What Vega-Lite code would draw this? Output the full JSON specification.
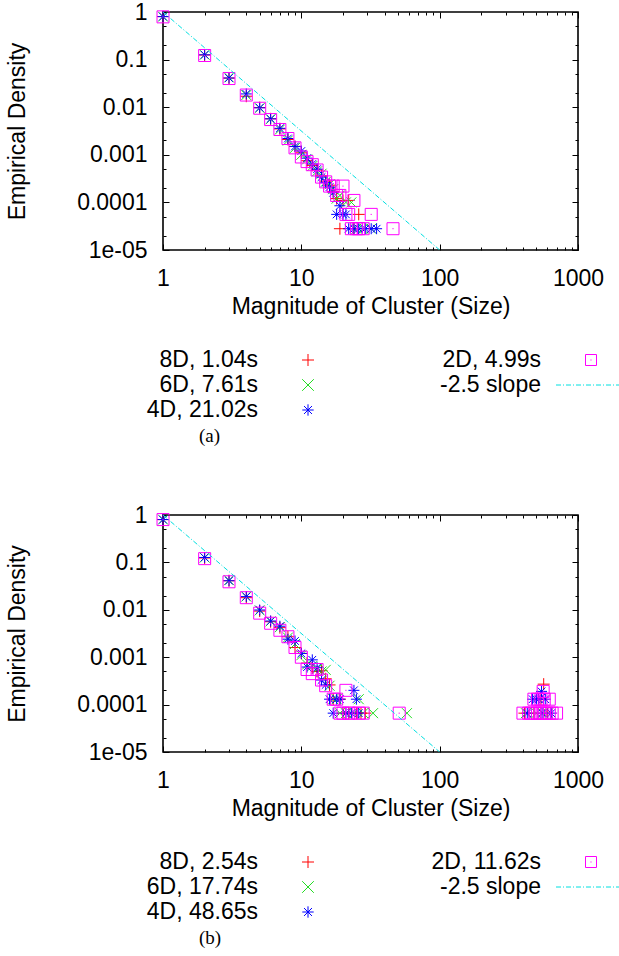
{
  "$schema": "https://vega.github.io/schema/vega-lite/v6.json",
  "background": "white",
  "padding": {"left": 5, "top": 0, "right": 0, "bottom": 0},
  "bounds": "flush",
  "spacing": 90,
  "config": {
    "font": "Liberation Sans",
    "axis": {"labelFont": "Liberation Sans", "labelFontSize": 23, "titleFont": "Liberation Sans", "titleFontSize": 23, "titleFontWeight": "normal", "labelColor": "#000", "titleColor": "#000", "tickColor": "#000", "tickWidth": 1, "grid": false},
    "view": {"stroke": "#000", "strokeWidth": 1.6}
  },
  "datasets": {
    "a": [
      {"s":"8D","x":1,"y":0.8},{"s":"8D","x":2,"y":0.125},{"s":"8D","x":3,"y":0.041},{"s":"8D","x":4,"y":0.017},{"s":"8D","x":5,"y":0.0098},{"s":"8D","x":6,"y":0.0057},{"s":"8D","x":7,"y":0.0035},{"s":"8D","x":8,"y":0.0021},{"s":"8D","x":9,"y":0.0015},{"s":"8D","x":10,"y":0.0011},{"s":"8D","x":11,"y":0.00075},{"s":"8D","x":12,"y":0.0006},{"s":"8D","x":13,"y":0.00048},{"s":"8D","x":14,"y":0.00036},{"s":"8D","x":15,"y":0.00028},{"s":"8D","x":16,"y":0.00023},{"s":"8D","x":17,"y":0.00017},{"s":"8D","x":18,"y":0.00012},{"s":"8D","x":19,"y":0.000028},{"s":"8D","x":20,"y":0.00011},{"s":"8D","x":22,"y":0.00011},{"s":"8D","x":24,"y":0.000028},{"s":"8D","x":26,"y":0.000056},
      {"s":"6D","x":1,"y":0.8},{"s":"6D","x":2,"y":0.126},{"s":"6D","x":3,"y":0.042},{"s":"6D","x":4,"y":0.018},{"s":"6D","x":5,"y":0.0096},{"s":"6D","x":6,"y":0.0056},{"s":"6D","x":7,"y":0.0034},{"s":"6D","x":8,"y":0.002},{"s":"6D","x":9,"y":0.0014},{"s":"6D","x":10,"y":0.001},{"s":"6D","x":11,"y":0.0008},{"s":"6D","x":12,"y":0.00058},{"s":"6D","x":13,"y":0.00045},{"s":"6D","x":14,"y":0.0004},{"s":"6D","x":15,"y":0.00027},{"s":"6D","x":16,"y":0.00024},{"s":"6D","x":17,"y":0.00019},{"s":"6D","x":18,"y":0.00012},{"s":"6D","x":19,"y":0.00014},{"s":"6D","x":21,"y":0.0001},{"s":"6D","x":23,"y":0.0001},{"s":"6D","x":25,"y":0.000028},{"s":"6D","x":28,"y":0.000028},{"s":"6D","x":32,"y":0.000028},
      {"s":"4D","x":1,"y":0.8},{"s":"4D","x":2,"y":0.126},{"s":"4D","x":3,"y":0.041},{"s":"4D","x":4,"y":0.019},{"s":"4D","x":5,"y":0.0097},{"s":"4D","x":6,"y":0.0057},{"s":"4D","x":7,"y":0.0036},{"s":"4D","x":8,"y":0.0022},{"s":"4D","x":9,"y":0.0015},{"s":"4D","x":10,"y":0.0012},{"s":"4D","x":11,"y":0.00085},{"s":"4D","x":12,"y":0.00064},{"s":"4D","x":13,"y":0.0005},{"s":"4D","x":14,"y":0.00034},{"s":"4D","x":15,"y":0.00026},{"s":"4D","x":16,"y":0.00021},{"s":"4D","x":17,"y":0.00016},{"s":"4D","x":18,"y":0.000056},{"s":"4D","x":19,"y":0.000085},{"s":"4D","x":20,"y":0.000056},{"s":"4D","x":21,"y":0.000056},{"s":"4D","x":22,"y":0.000028},{"s":"4D","x":24,"y":0.000028},{"s":"4D","x":26,"y":0.000028},{"s":"4D","x":29,"y":0.000028},{"s":"4D","x":32,"y":0.000028},{"s":"4D","x":35,"y":0.000028},
      {"s":"2D","x":1,"y":0.79},{"s":"2D","x":2,"y":0.122},{"s":"2D","x":3,"y":0.04},{"s":"2D","x":4,"y":0.018},{"s":"2D","x":5,"y":0.0095},{"s":"2D","x":6,"y":0.0055},{"s":"2D","x":7,"y":0.0034},{"s":"2D","x":8,"y":0.0022},{"s":"2D","x":9,"y":0.0014},{"s":"2D","x":10,"y":0.0009},{"s":"2D","x":11,"y":0.00072},{"s":"2D","x":12,"y":0.00062},{"s":"2D","x":13,"y":0.00048},{"s":"2D","x":14,"y":0.00034},{"s":"2D","x":15,"y":0.00027},{"s":"2D","x":16,"y":0.00022},{"s":"2D","x":17,"y":0.00022},{"s":"2D","x":18,"y":0.00014},{"s":"2D","x":19,"y":0.00014},{"s":"2D","x":20,"y":0.00022},{"s":"2D","x":21,"y":0.000056},{"s":"2D","x":22,"y":0.000056},{"s":"2D","x":23,"y":0.000028},{"s":"2D","x":24,"y":0.00011},{"s":"2D","x":25,"y":0.000028},{"s":"2D","x":26,"y":0.000028},{"s":"2D","x":28,"y":0.000028},{"s":"2D","x":32,"y":0.000056},{"s":"2D","x":46,"y":0.000028}
    ],
    "b": [
      {"s":"8D","x":1,"y":0.8},{"s":"8D","x":2,"y":0.124},{"s":"8D","x":3,"y":0.041},{"s":"8D","x":4,"y":0.018},{"s":"8D","x":5,"y":0.0094},{"s":"8D","x":6,"y":0.0056},{"s":"8D","x":7,"y":0.0042},{"s":"8D","x":8,"y":0.0027},{"s":"8D","x":9,"y":0.0016},{"s":"8D","x":10,"y":0.0012},{"s":"8D","x":11,"y":0.00075},{"s":"8D","x":12,"y":0.0006},{"s":"8D","x":13,"y":0.0005},{"s":"8D","x":14,"y":0.00052},{"s":"8D","x":15,"y":0.00035},{"s":"8D","x":16,"y":0.00026},{"s":"8D","x":17,"y":0.00013},{"s":"8D","x":19,"y":0.00013},{"s":"8D","x":20,"y":0.000066},{"s":"8D","x":22,"y":0.000066},{"s":"8D","x":25,"y":0.000066},{"s":"8D","x":27,"y":0.000066},{"s":"8D","x":29,"y":0.000066},{"s":"8D","x":410,"y":0.000066},{"s":"8D","x":480,"y":0.000066},{"s":"8D","x":540,"y":0.00013},{"s":"8D","x":565,"y":0.00027},{"s":"8D","x":600,"y":0.000066},
      {"s":"6D","x":1,"y":0.8},{"s":"6D","x":2,"y":0.126},{"s":"6D","x":3,"y":0.042},{"s":"6D","x":4,"y":0.019},{"s":"6D","x":5,"y":0.0097},{"s":"6D","x":6,"y":0.0057},{"s":"6D","x":7,"y":0.0043},{"s":"6D","x":8,"y":0.0026},{"s":"6D","x":9,"y":0.0019},{"s":"6D","x":10,"y":0.0011},{"s":"6D","x":11,"y":0.0007},{"s":"6D","x":12,"y":0.00065},{"s":"6D","x":13,"y":0.00056},{"s":"6D","x":14,"y":0.0005},{"s":"6D","x":15,"y":0.00054},{"s":"6D","x":16,"y":0.00025},{"s":"6D","x":17,"y":0.00013},{"s":"6D","x":18,"y":0.00013},{"s":"6D","x":19,"y":0.000066},{"s":"6D","x":21,"y":0.000066},{"s":"6D","x":24,"y":0.000066},{"s":"6D","x":26,"y":0.00013},{"s":"6D","x":28,"y":0.000066},{"s":"6D","x":33,"y":0.000066},{"s":"6D","x":58,"y":0.000066},{"s":"6D","x":420,"y":0.000066},{"s":"6D","x":500,"y":0.000066},{"s":"6D","x":560,"y":0.000066},{"s":"6D","x":610,"y":0.000066},
      {"s":"4D","x":1,"y":0.8},{"s":"4D","x":2,"y":0.127},{"s":"4D","x":3,"y":0.041},{"s":"4D","x":4,"y":0.019},{"s":"4D","x":5,"y":0.0099},{"s":"4D","x":6,"y":0.0058},{"s":"4D","x":7,"y":0.0045},{"s":"4D","x":8,"y":0.0024},{"s":"4D","x":9,"y":0.0022},{"s":"4D","x":10,"y":0.0012},{"s":"4D","x":11,"y":0.00062},{"s":"4D","x":12,"y":0.00088},{"s":"4D","x":13,"y":0.0006},{"s":"4D","x":14,"y":0.00033},{"s":"4D","x":15,"y":0.00026},{"s":"4D","x":16,"y":0.00013},{"s":"4D","x":17,"y":0.000066},{"s":"4D","x":18,"y":0.00013},{"s":"4D","x":19,"y":0.00013},{"s":"4D","x":21,"y":0.000066},{"s":"4D","x":23,"y":0.000066},{"s":"4D","x":24,"y":0.0002},{"s":"4D","x":25,"y":0.00013},{"s":"4D","x":26,"y":0.000066},{"s":"4D","x":430,"y":0.000066},{"s":"4D","x":470,"y":0.00013},{"s":"4D","x":500,"y":0.00013},{"s":"4D","x":520,"y":0.00013},{"s":"4D","x":545,"y":0.00019},{"s":"4D","x":550,"y":0.000066},{"s":"4D","x":580,"y":0.00013},{"s":"4D","x":640,"y":0.000066},
      {"s":"2D","x":1,"y":0.8},{"s":"2D","x":2,"y":0.12},{"s":"2D","x":3,"y":0.039},{"s":"2D","x":4,"y":0.018},{"s":"2D","x":5,"y":0.0085},{"s":"2D","x":6,"y":0.0052},{"s":"2D","x":7,"y":0.0037},{"s":"2D","x":8,"y":0.0027},{"s":"2D","x":9,"y":0.0016},{"s":"2D","x":10,"y":0.001},{"s":"2D","x":11,"y":0.00055},{"s":"2D","x":12,"y":0.00045},{"s":"2D","x":13,"y":0.00055},{"s":"2D","x":14,"y":0.00033},{"s":"2D","x":15,"y":0.00025},{"s":"2D","x":17,"y":0.00013},{"s":"2D","x":18,"y":0.00013},{"s":"2D","x":19,"y":0.000066},{"s":"2D","x":20,"y":0.000066},{"s":"2D","x":21,"y":0.0002},{"s":"2D","x":22,"y":0.000066},{"s":"2D","x":23,"y":0.000066},{"s":"2D","x":26,"y":0.000066},{"s":"2D","x":28,"y":0.000066},{"s":"2D","x":51,"y":0.000066},{"s":"2D","x":400,"y":0.000066},{"s":"2D","x":440,"y":0.000066},{"s":"2D","x":460,"y":0.000066},{"s":"2D","x":490,"y":0.000066},{"s":"2D","x":510,"y":0.000066},{"s":"2D","x":530,"y":0.000066},{"s":"2D","x":550,"y":0.000066},{"s":"2D","x":570,"y":0.000066},{"s":"2D","x":590,"y":0.000066},{"s":"2D","x":620,"y":0.000066},{"s":"2D","x":650,"y":0.000066},{"s":"2D","x":700,"y":0.000066},{"s":"2D","x":480,"y":0.00013},{"s":"2D","x":510,"y":0.00013},{"s":"2D","x":540,"y":0.00013},{"s":"2D","x":570,"y":0.00013},{"s":"2D","x":620,"y":0.00013},{"s":"2D","x":560,"y":0.00019}
    ],
    "slope": [{"x":1,"y":1},{"x":100,"y":0.00001}],
    "legA": [{"s":"8D","label":"8D, 1.04s"},{"s":"6D","label":"6D, 7.61s"},{"s":"4D","label":"4D, 21.02s"},{"s":"2D","label":"2D, 4.99s"},{"s":"slope","label":"-2.5 slope"}],
    "legB": [{"s":"8D","label":"8D, 2.54s"},{"s":"6D","label":"6D, 17.74s"},{"s":"4D","label":"4D, 48.65s"},{"s":"2D","label":"2D, 11.62s"},{"s":"slope","label":"-2.5 slope"}]
  },
  "vconcat": [
    {
      "width": 415, "height": 238,
      "data": {"name": "a"},
      "layer": [
        {"transform": [{"filter": "datum.s == '8D'"}],
         "mark": {"type": "point", "shape": "M-1,0L1,0M0,-1L0,1", "size": 144, "filled": false, "color": "#ff0000", "strokeWidth": 1, "opacity": 1},
         "encoding": {
           "x": {"field": "x", "type": "quantitative", "scale": {"type": "log", "domain": [1, 1000], "nice": false}, "axis": {"orient": "bottom", "values": [1, 10, 100, 1000], "format": "d", "ticks": false, "domain": false, "labelPadding": 17, "labelOverlap": false, "labelFlush": false, "title": "Magnitude of Cluster (Size)", "titlePadding": 5}},
           "y": {"field": "y", "type": "quantitative", "scale": {"type": "log", "domain": [0.00001, 1], "nice": false}, "axis": {"orient": "left", "values": [0.00001, 0.0001, 0.001, 0.01, 0.1, 1], "labelExpr": "datum.value < 0.00005 ? '1e-05' : datum.value < 0.0005 ? '0.0001' : datum.value < 0.005 ? '0.001' : datum.value < 0.05 ? '0.01' : datum.value < 0.5 ? '0.1' : '1'", "ticks": false, "domain": false, "labelPadding": 16, "labelOverlap": false, "labelFlush": false, "title": "Empirical Density", "titlePadding": 47}}
         }},
        {"transform": [{"filter": "datum.s == '6D'"}],
         "mark": {"type": "point", "shape": "M-1,-1L1,1M-1,1L1,-1", "size": 100, "filled": false, "color": "#22dd22", "strokeWidth": 1, "opacity": 1},
         "encoding": {
           "x": {"field": "x", "type": "quantitative", "scale": {"type": "log", "domain": [1, 1000], "nice": false}, "axis": {"orient": "bottom", "values": [1, 10, 100, 1000], "labels": false, "ticks": true, "tickSize": -6, "domain": false, "title": null}},
           "y": {"field": "y", "type": "quantitative", "scale": {"type": "log", "domain": [0.00001, 1], "nice": false}, "axis": {"orient": "left", "values": [0.00001, 0.0001, 0.001, 0.01, 0.1, 1], "labels": false, "ticks": true, "tickSize": -6, "domain": false, "title": null}}
         }},
        {"transform": [{"filter": "datum.s == '4D'"}],
         "mark": {"type": "point", "shape": "M-1,0L1,0M0,-1L0,1M-0.7,-0.7L0.7,0.7M-0.7,0.7L0.7,-0.7", "size": 121, "filled": false, "color": "#0000ff", "strokeWidth": 1, "opacity": 1},
         "encoding": {
           "x": {"field": "x", "type": "quantitative", "scale": {"type": "log", "domain": [1, 1000], "nice": false}, "axis": {"orient": "bottom", "values": [2,3,4,5,6,7,8,9,20,30,40,50,60,70,80,90,200,300,400,500,600,700,800,900], "labels": false, "ticks": true, "tickSize": -3, "domain": false, "title": null}},
           "y": {"field": "y", "type": "quantitative", "scale": {"type": "log", "domain": [0.00001, 1], "nice": false}, "axis": {"orient": "left", "values": [0.00002,0.00005,0.0002,0.0005,0.002,0.005,0.02,0.05,0.2,0.5], "labels": false, "ticks": true, "tickSize": -3, "domain": false, "title": null}}
         }},
        {"transform": [{"filter": "datum.s == '2D'"}],
         "mark": {"type": "point", "shape": "M-1,-1L1,-1L1,1L-1,1Z M-0.1,0L0.1,0", "size": 144, "filled": false, "color": "#ff00ff", "strokeWidth": 1, "opacity": 1},
         "encoding": {
           "x": {"field": "x", "type": "quantitative", "scale": {"type": "log", "domain": [1, 1000], "nice": false}, "axis": {"orient": "top", "values": [1, 10, 100, 1000], "labels": false, "ticks": true, "tickSize": -6, "domain": false, "title": null}},
           "y": {"field": "y", "type": "quantitative", "scale": {"type": "log", "domain": [0.00001, 1], "nice": false}, "axis": {"orient": "right", "values": [0.00001, 0.0001, 0.001, 0.01, 0.1, 1], "labels": false, "ticks": true, "tickSize": -6, "domain": false, "title": null}}
         }},
        {"data": {"name": "slope"},
         "mark": {"type": "line", "color": "#00e0e0", "strokeWidth": 1, "strokeDash": [5, 2, 1, 2], "clip": true},
         "encoding": {
           "x": {"field": "x", "type": "quantitative", "scale": {"type": "log", "domain": [1, 1000], "nice": false}, "axis": {"orient": "top", "values": [2,3,4,5,6,7,8,9,20,30,40,50,60,70,80,90,200,300,400,500,600,700,800,900], "labels": false, "ticks": true, "tickSize": -3, "domain": false, "title": null}},
           "y": {"field": "y", "type": "quantitative", "scale": {"type": "log", "domain": [0.00001, 1], "nice": false}, "axis": {"orient": "right", "values": [0.00002,0.00005,0.0002,0.0005,0.002,0.005,0.02,0.05,0.2,0.5], "labels": false, "ticks": true, "tickSize": -3, "domain": false, "title": null}}
         }}
      ],
      "resolve": {"axis": {"x": "independent", "y": "independent"}}
    },
    {
      "width": 415, "height": 85,
      "view": {"stroke": null},
      "data": {"name": "legA"},
      "title": {"text": "(a)", "orient": "bottom", "anchor": "start", "frame": "group", "dx": 36, "offset": 2, "font": "Liberation Serif", "fontSize": 19, "fontWeight": "normal", "color": "#000"},
      "layer": [
        {
          "transform": [{"filter": "datum.s == '8D' || datum.s == '6D' || datum.s == '4D'"}],
          "encoding": {
            "x": {"field": "s", "type": "nominal", "scale": {"type": "point", "domain": ["8D", "6D", "4D"], "range": [145, 145], "padding": 0}, "axis": null},
            "y": {"field": "s", "type": "nominal", "scale": {"type": "point", "domain": ["8D", "6D", "4D"], "range": [20, 70], "padding": 0}, "axis": null}
          },
          "layer": [
            {"mark": {"type": "text", "align": "right", "baseline": "middle", "dx": -50, "font": "Liberation Sans", "fontSize": 23, "color": "#000"}, "encoding": {"text": {"field": "label"}}},
            {"mark": {"type": "point", "filled": false, "strokeWidth": 1, "opacity": 1},
             "encoding": {
               "shape": {"field": "s", "type": "nominal", "scale": {"domain": ["8D", "6D", "4D", "2D"], "range": ["M-1,0L1,0M0,-1L0,1", "M-1,-1L1,1M-1,1L1,-1", "M-1,0L1,0M0,-1L0,1M-0.7,-0.7L0.7,0.7M-0.7,0.7L0.7,-0.7", "M-1,-1L1,-1L1,1L-1,1Z M-0.1,0L0.1,0"]}, "legend": null},
               "color": {"field": "s", "type": "nominal", "scale": {"domain": ["8D", "6D", "4D", "2D"], "range": ["#ff0000", "#22dd22", "#0000ff", "#ff00ff"]}, "legend": null},
               "size": {"field": "s", "type": "nominal", "scale": {"domain": ["8D", "6D", "4D", "2D"], "range": [144, 121, 121, 121]}, "legend": null}
             }}
          ]
        },
        {
          "transform": [{"filter": "datum.s == '2D' || datum.s == 'slope'"}],
          "encoding": {
            "x": {"field": "s", "type": "nominal", "scale": {"type": "point", "domain": ["2D", "slope"], "range": [428, 428], "padding": 0}, "axis": null},
            "y": {"field": "s", "type": "nominal", "scale": {"type": "point", "domain": ["2D", "slope"], "range": [20, 45], "padding": 0}, "axis": null}
          },
          "layer": [
            {"mark": {"type": "text", "align": "right", "baseline": "middle", "dx": -50, "font": "Liberation Sans", "fontSize": 23, "color": "#000"}, "encoding": {"text": {"field": "label"}}},
            {"transform": [{"filter": "datum.s == '2D'"}], "mark": {"type": "point", "shape": "M-1,-1L1,-1L1,1L-1,1Z M-0.1,0L0.1,0", "size": 121, "filled": false, "color": "#ff00ff", "strokeWidth": 1, "opacity": 1}},
            {"transform": [{"filter": "datum.s == 'slope'"}], "mark": {"type": "point", "shape": "M-1,0L1,0", "size": 4900, "filled": false, "color": "#00e0e0", "strokeWidth": 1, "strokeDash": [5, 2, 1, 2], "opacity": 1}}
          ]
        }
      ],
      "resolve": {"scale": {"x": "independent", "y": "independent"}}
    },
    {
      "width": 415, "height": 237,
      "data": {"name": "b"},
      "layer": [
        {"transform": [{"filter": "datum.s == '8D'"}],
         "mark": {"type": "point", "shape": "M-1,0L1,0M0,-1L0,1", "size": 144, "filled": false, "color": "#ff0000", "strokeWidth": 1, "opacity": 1},
         "encoding": {
           "x": {"field": "x", "type": "quantitative", "scale": {"type": "log", "domain": [1, 1000], "nice": false}, "axis": {"orient": "bottom", "values": [1, 10, 100, 1000], "format": "d", "ticks": false, "domain": false, "labelPadding": 17, "labelOverlap": false, "labelFlush": false, "title": "Magnitude of Cluster (Size)", "titlePadding": 5}},
           "y": {"field": "y", "type": "quantitative", "scale": {"type": "log", "domain": [0.00001, 1], "nice": false}, "axis": {"orient": "left", "values": [0.00001, 0.0001, 0.001, 0.01, 0.1, 1], "labelExpr": "datum.value < 0.00005 ? '1e-05' : datum.value < 0.0005 ? '0.0001' : datum.value < 0.005 ? '0.001' : datum.value < 0.05 ? '0.01' : datum.value < 0.5 ? '0.1' : '1'", "ticks": false, "domain": false, "labelPadding": 16, "labelOverlap": false, "labelFlush": false, "title": "Empirical Density", "titlePadding": 47}}
         }},
        {"transform": [{"filter": "datum.s == '6D'"}],
         "mark": {"type": "point", "shape": "M-1,-1L1,1M-1,1L1,-1", "size": 100, "filled": false, "color": "#22dd22", "strokeWidth": 1, "opacity": 1},
         "encoding": {
           "x": {"field": "x", "type": "quantitative", "scale": {"type": "log", "domain": [1, 1000], "nice": false}, "axis": {"orient": "bottom", "values": [1, 10, 100, 1000], "labels": false, "ticks": true, "tickSize": -6, "domain": false, "title": null}},
           "y": {"field": "y", "type": "quantitative", "scale": {"type": "log", "domain": [0.00001, 1], "nice": false}, "axis": {"orient": "left", "values": [0.00001, 0.0001, 0.001, 0.01, 0.1, 1], "labels": false, "ticks": true, "tickSize": -6, "domain": false, "title": null}}
         }},
        {"transform": [{"filter": "datum.s == '4D'"}],
         "mark": {"type": "point", "shape": "M-1,0L1,0M0,-1L0,1M-0.7,-0.7L0.7,0.7M-0.7,0.7L0.7,-0.7", "size": 121, "filled": false, "color": "#0000ff", "strokeWidth": 1, "opacity": 1},
         "encoding": {
           "x": {"field": "x", "type": "quantitative", "scale": {"type": "log", "domain": [1, 1000], "nice": false}, "axis": {"orient": "bottom", "values": [2,3,4,5,6,7,8,9,20,30,40,50,60,70,80,90,200,300,400,500,600,700,800,900], "labels": false, "ticks": true, "tickSize": -3, "domain": false, "title": null}},
           "y": {"field": "y", "type": "quantitative", "scale": {"type": "log", "domain": [0.00001, 1], "nice": false}, "axis": {"orient": "left", "values": [0.00002,0.00005,0.0002,0.0005,0.002,0.005,0.02,0.05,0.2,0.5], "labels": false, "ticks": true, "tickSize": -3, "domain": false, "title": null}}
         }},
        {"transform": [{"filter": "datum.s == '2D'"}],
         "mark": {"type": "point", "shape": "M-1,-1L1,-1L1,1L-1,1Z M-0.1,0L0.1,0", "size": 144, "filled": false, "color": "#ff00ff", "strokeWidth": 1, "opacity": 1},
         "encoding": {
           "x": {"field": "x", "type": "quantitative", "scale": {"type": "log", "domain": [1, 1000], "nice": false}, "axis": {"orient": "top", "values": [1, 10, 100, 1000], "labels": false, "ticks": true, "tickSize": -6, "domain": false, "title": null}},
           "y": {"field": "y", "type": "quantitative", "scale": {"type": "log", "domain": [0.00001, 1], "nice": false}, "axis": {"orient": "right", "values": [0.00001, 0.0001, 0.001, 0.01, 0.1, 1], "labels": false, "ticks": true, "tickSize": -6, "domain": false, "title": null}}
         }},
        {"data": {"name": "slope"},
         "mark": {"type": "line", "color": "#00e0e0", "strokeWidth": 1, "strokeDash": [5, 2, 1, 2], "clip": true},
         "encoding": {
           "x": {"field": "x", "type": "quantitative", "scale": {"type": "log", "domain": [1, 1000], "nice": false}, "axis": {"orient": "top", "values": [2,3,4,5,6,7,8,9,20,30,40,50,60,70,80,90,200,300,400,500,600,700,800,900], "labels": false, "ticks": true, "tickSize": -3, "domain": false, "title": null}},
           "y": {"field": "y", "type": "quantitative", "scale": {"type": "log", "domain": [0.00001, 1], "nice": false}, "axis": {"orient": "right", "values": [0.00002,0.00005,0.0002,0.0005,0.002,0.005,0.02,0.05,0.2,0.5], "labels": false, "ticks": true, "tickSize": -3, "domain": false, "title": null}}
         }}
      ],
      "resolve": {"axis": {"x": "independent", "y": "independent"}}
    },
    {
      "width": 415, "height": 85,
      "view": {"stroke": null},
      "data": {"name": "legB"},
      "title": {"text": "(b)", "orient": "bottom", "anchor": "start", "frame": "group", "dx": 36, "offset": 2, "font": "Liberation Serif", "fontSize": 19, "fontWeight": "normal", "color": "#000"},
      "layer": [
        {
          "transform": [{"filter": "datum.s == '8D' || datum.s == '6D' || datum.s == '4D'"}],
          "encoding": {
            "x": {"field": "s", "type": "nominal", "scale": {"type": "point", "domain": ["8D", "6D", "4D"], "range": [145, 145], "padding": 0}, "axis": null},
            "y": {"field": "s", "type": "nominal", "scale": {"type": "point", "domain": ["8D", "6D", "4D"], "range": [20, 70], "padding": 0}, "axis": null}
          },
          "layer": [
            {"mark": {"type": "text", "align": "right", "baseline": "middle", "dx": -50, "font": "Liberation Sans", "fontSize": 23, "color": "#000"}, "encoding": {"text": {"field": "label"}}},
            {"mark": {"type": "point", "filled": false, "strokeWidth": 1, "opacity": 1},
             "encoding": {
               "shape": {"field": "s", "type": "nominal", "scale": {"domain": ["8D", "6D", "4D", "2D"], "range": ["M-1,0L1,0M0,-1L0,1", "M-1,-1L1,1M-1,1L1,-1", "M-1,0L1,0M0,-1L0,1M-0.7,-0.7L0.7,0.7M-0.7,0.7L0.7,-0.7", "M-1,-1L1,-1L1,1L-1,1Z M-0.1,0L0.1,0"]}, "legend": null},
               "color": {"field": "s", "type": "nominal", "scale": {"domain": ["8D", "6D", "4D", "2D"], "range": ["#ff0000", "#22dd22", "#0000ff", "#ff00ff"]}, "legend": null},
               "size": {"field": "s", "type": "nominal", "scale": {"domain": ["8D", "6D", "4D", "2D"], "range": [144, 121, 121, 121]}, "legend": null}
             }}
          ]
        },
        {
          "transform": [{"filter": "datum.s == '2D' || datum.s == 'slope'"}],
          "encoding": {
            "x": {"field": "s", "type": "nominal", "scale": {"type": "point", "domain": ["2D", "slope"], "range": [428, 428], "padding": 0}, "axis": null},
            "y": {"field": "s", "type": "nominal", "scale": {"type": "point", "domain": ["2D", "slope"], "range": [20, 45], "padding": 0}, "axis": null}
          },
          "layer": [
            {"mark": {"type": "text", "align": "right", "baseline": "middle", "dx": -50, "font": "Liberation Sans", "fontSize": 23, "color": "#000"}, "encoding": {"text": {"field": "label"}}},
            {"transform": [{"filter": "datum.s == '2D'"}], "mark": {"type": "point", "shape": "M-1,-1L1,-1L1,1L-1,1Z M-0.1,0L0.1,0", "size": 121, "filled": false, "color": "#ff00ff", "strokeWidth": 1, "opacity": 1}},
            {"transform": [{"filter": "datum.s == 'slope'"}], "mark": {"type": "point", "shape": "M-1,0L1,0", "size": 4900, "filled": false, "color": "#00e0e0", "strokeWidth": 1, "strokeDash": [5, 2, 1, 2], "opacity": 1}}
          ]
        }
      ],
      "resolve": {"scale": {"x": "independent", "y": "independent"}}
    }
  ]
}
